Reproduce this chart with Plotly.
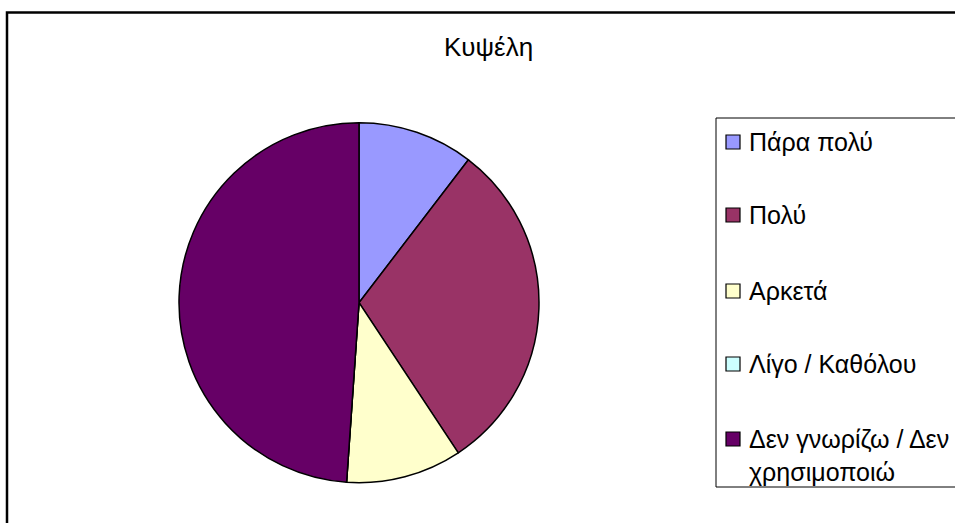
import plotly.graph_objects as go

W, H = 955, 523

title = "Κυψέλη"
labels = ["Πάρα πολύ", "Πολύ", "Αρκετά", "Λίγο / Καθόλου", "Δεν γνωρίζω / Δεν χρησιμοποιώ"]
legend_text = ["Πάρα πολύ", "Πολύ", "Αρκετά", "Λίγο / Καθόλου", "Δεν γνωρίζω / Δεν<br>χρησιμοποιώ"]
values = [10.4, 30.3, 10.4, 0, 48.9]
colors = ["#9999FF", "#993366", "#FFFFCC", "#CCFFFF", "#660066"]

FONT = "Liberation Sans, Arial, sans-serif"


def px(x):
    return x / W


def py(y):
    return 1 - y / H


cx, cy, r = 359, 302.7, 180

fig = go.Figure()
fig.add_trace(go.Pie(
    labels=labels,
    values=values,
    sort=False,
    direction="clockwise",
    rotation=0,
    textinfo="none",
    hoverinfo="label+value",
    marker=dict(colors=colors, line=dict(color="black", width=1.5)),
    domain=dict(x=[px(cx - r), px(cx + r)], y=[py(cy + r), py(cy - r)]),
    showlegend=False,
))

shapes = [
    # outer chart frame
    dict(type="rect", xref="paper", yref="paper",
         x0=px(7), x1=px(W + 20), y0=py(H + 20), y1=py(12.5),
         line=dict(color="black", width=2.5), fillcolor="rgba(0,0,0,0)"),
    # legend box
    dict(type="rect", xref="paper", yref="paper",
         x0=px(716), x1=px(W + 20), y0=py(487), y1=py(118),
         line=dict(color="black", width=1), fillcolor="white"),
]

annotations = [
    dict(text=title, x=px(488), y=py(47), xref="paper", yref="paper",
         xanchor="center", yanchor="middle", showarrow=False,
         font=dict(family=FONT, size=26, color="black")),
]

item_y = [142, 215, 291, 364, 439]
sq = 14
for i, (lab, col) in enumerate(zip(legend_text, colors)):
    yc = item_y[i]
    shapes.append(dict(type="rect", xref="paper", yref="paper",
                       x0=px(726), x1=px(726 + sq), y0=py(yc + sq / 2), y1=py(yc - sq / 2),
                       line=dict(color="black", width=1.2), fillcolor=col))
    annotations.append(dict(text=lab, x=px(747), y=py(yc - 16), xref="paper", yref="paper",
                            xanchor="left", yanchor="top", align="left", showarrow=False,
                            font=dict(family=FONT, size=25, color="black")))

fig.update_layout(
    width=W, height=H,
    margin=dict(l=0, r=0, t=0, b=0),
    paper_bgcolor="white",
    plot_bgcolor="white",
    shapes=shapes,
    annotations=annotations,
)

fig.write_html("out.html")
